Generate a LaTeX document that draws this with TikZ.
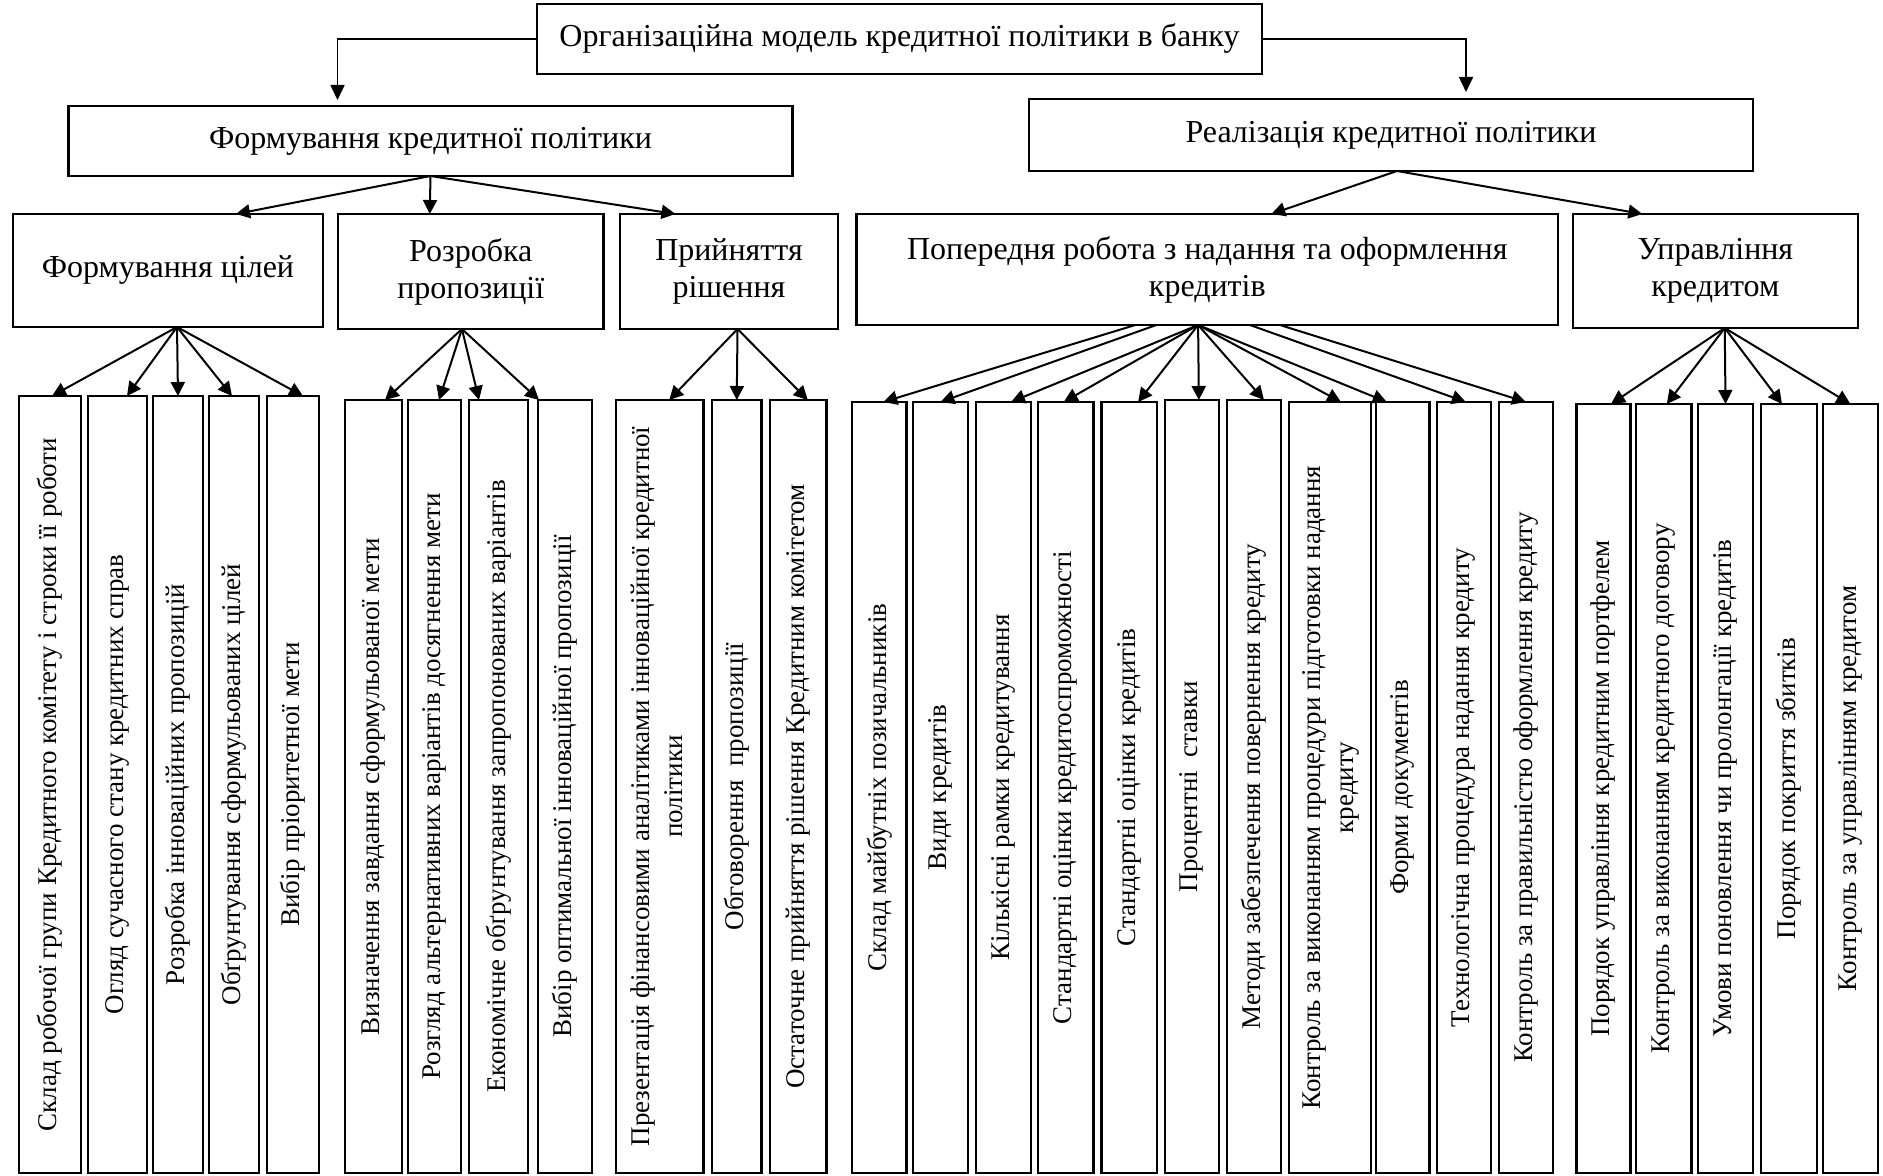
\documentclass[tikz,border=0pt]{standalone}
\usepackage{fontspec}
\usepackage{graphicx}
\setmainfont{Liberation Serif}
\usetikzlibrary{arrows.meta}
\tikzset{
  bxs/.style={draw, line width=1.2pt, inner sep=0pt, outer sep=0pt, align=center},
  bigtxt/.style={font=\fontsize{16}{18.5}\selectfont},
  smalltxt/.style={font=\fontsize{13.5}{16.5}\selectfont},
  arr/.style={line width=1pt, -{Triangle[length=7pt,width=7pt]}},
  thinarr/.style={line width=0.8pt, -{Triangle[length=7.5pt,width=7pt]}}
}
\newcommand\bx[7][bigtxt]{\node[bxs,#1,minimum width={(#5-#3)*0.5pt},minimum height={(#6-#4)*0.5pt}] (#2) at ({(#3+#5)/2},{(#4+#6)/2}) {#7};}
\newcommand\rt[1]{\rotatebox{90}{#1}}
\newcommand\rtt[2]{\rotatebox{90}{\begin{tabular}{@{}c@{}}#1\\#2\end{tabular}}}
\begin{document}
\begin{tikzpicture}[x=0.5pt,y=-0.5pt]
\useasboundingbox (0,0) rectangle (1883,1176);
% top
\bx{top}{537}{4}{1262}{74}{Організаційна модель кредитної політики в банку}
\bx{la}{68.5}{106}{792.5}{176}{Формування кредитної політики}
\bx{lb}{1029}{99}{1753}{171}{Реалізація кредитної політики}
\draw[thinarr] (top.west) -| ([xshift=-46.5pt,yshift=3pt]la.north);
\draw[thinarr] (top.east) -| ([xshift=37.5pt,yshift=3.5pt]lb.north);
% level 2
\bx{fc}{13}{214}{323}{327}{Формування цілей}
\bx{rp}{338}{214}{603.5}{329}{Розробка\\пропозиції}
\bx{pr}{620}{214}{838}{329}{Прийняття\\рішення}
\bx{pp}{856.6}{214}{1558}{325}{Попередня робота з надання та оформлення\\кредитів}
\bx{uk}{1572.7}{214}{1858}{328}{Управління\\кредитом}
\draw[arr] (la.south) -- ([xshift=34pt]fc.north);
\draw[arr] (la.south) -- ([xshift=-20.5pt]rp.north);
\draw[arr] (la.south) -- ([xshift=-26.75pt]pr.north);
\draw[arr] ([xshift=3pt]lb.south) -- ([xshift=32pt]pp.north);
\draw[arr] ([xshift=3pt]lb.south) -- ([xshift=-36.5pt]uk.north);
% group 1
\bx[smalltxt]{b11}{19}{396}{81}{1173}{\rt{Склад робочої групи Кредитного комітету і строки її роботи}}
\bx[smalltxt]{b12}{88}{396}{147}{1173}{\rt{Огляд сучасного стану кредитних справ}}
\bx[smalltxt]{b13}{153}{396}{203}{1173}{\rt{Розробка інноваційних пропозицій}}
\bx[smalltxt]{b14}{209}{396}{259}{1173}{\rt{Обґрунтування сформульованих цілей}}
\bx[smalltxt]{b15}{267}{396}{319}{1173}{\rt{Вибір пріоритетної мети}}
% group 2
\bx[smalltxt]{b21}{345}{400}{402}{1173}{\rt{Визначення завдання сформульованої мети}}
\bx[smalltxt]{b22}{408}{400}{461}{1173}{\rt{Розгляд альтернативних варіантів досягнення мети}}
\bx[smalltxt]{b23}{469}{400}{528}{1173}{\rt{Економічне обґрунтування запропонованих варіантів}}
\bx[smalltxt]{b24}{538}{400}{592}{1173}{\rt{Вибір оптимальної інноваційної пропозиції}}
% group 3
\bx[smalltxt]{b31}{616}{400}{703.5}{1173}{\rtt{Презентація фінансовими аналітиками інноваційної кредитної}{політики}}
\bx[smalltxt]{b32}{712}{400}{761.5}{1173}{\rt{Обговорення\ \ пропозиції}}
\bx[smalltxt]{b33}{770}{400}{826.5}{1173}{\rt{Остаточне прийняття рішення Кредитним комітетом}}
% group 4
\bx[smalltxt]{b41}{852}{402}{906.5}{1173}{\rt{Склад майбутніх позичальників}}
\bx[smalltxt]{b42}{913}{402}{968}{1173}{\rt{Види кредитів}}
\bx[smalltxt]{b43}{976}{402}{1031}{1173}{\rt{Кількісні рамки кредитування}}
\bx[smalltxt]{b44}{1038}{402}{1093.5}{1173}{\rt{Стандартні оцінки кредитоспроможності}}
\bx[smalltxt]{b45}{1101.5}{402}{1156.7}{1173}{\rt{Стандартні оцінки кредитів}}
\bx[smalltxt]{b46}{1164.7}{400}{1219}{1173}{\rt{Процентні\ \ ставки}}
\bx[smalltxt]{b47}{1227}{400}{1281}{1173}{\rt{Методи забезпечення повернення кредиту}}
\bx[smalltxt]{b48}{1289}{402}{1371}{1173}{\rtt{Контроль за виконанням процедури підготовки надання}{кредиту}}
\bx[smalltxt]{b49}{1376}{402}{1429.5}{1173}{\rt{Форми документів}}
\bx[smalltxt]{b4a}{1437}{402}{1490.7}{1173}{\rt{Технологічна процедура надання кредиту}}
\bx[smalltxt]{b4b}{1498.7}{402}{1553}{1173}{\rt{Контроль за правильністю оформлення кредиту}}
% group 5
\bx[smalltxt]{b51}{1576.5}{404}{1630.4}{1173}{\rt{Порядок управління кредитним портфелем}}
\bx[smalltxt]{b52}{1636}{404}{1691.6}{1173}{\rt{Контроль за виконанням кредитного договору}}
\bx[smalltxt]{b53}{1698}{404}{1753}{1173}{\rt{Умови поновлення чи пролонгації кредитів}}
\bx[smalltxt]{b54}{1761}{404}{1817}{1173}{\rt{Порядок покриття збитків}}
\bx[smalltxt]{b55}{1822.7}{404}{1878}{1173}{\rt{Контроль за управлінням кредитом}}
% arrows group 1
\draw[arr] ([xshift=4.5pt]fc.south) -- ([xshift=1pt]b11.north);
\draw[arr] ([xshift=4.5pt]fc.south) -- ([xshift=4.75pt]b12.north);
\draw[arr] ([xshift=4.5pt]fc.south) -- (b13.north);
\draw[arr] ([xshift=4.5pt]fc.south) -- ([xshift=-1pt]b14.north);
\draw[arr] ([xshift=4.5pt]fc.south) -- ([xshift=5pt]b15.north);
% arrows group 2
\draw[arr] ([xshift=-4.4pt]rp.south) -- ([xshift=5.75pt]b21.north);
\draw[arr] ([xshift=-4.4pt]rp.south) -- ([xshift=2.25pt]b22.north);
\draw[arr] ([xshift=-4.4pt]rp.south) -- ([xshift=-9.75pt]b23.north);
\draw[arr] ([xshift=-4.4pt]rp.south) -- ([xshift=-13pt]b24.north);
% arrows group 3
\draw[arr] ([xshift=4.25pt]pr.south) -- ([xshift=4.75pt]b31.north);
\draw[arr] ([xshift=4.25pt]pr.south) -- (b32.north);
\draw[arr] ([xshift=4.25pt]pr.south) -- ([xshift=4.75pt]b33.north);
% arrows group 4
\draw[arr] ([xshift=-36pt]pp.south) -- ([xshift=2pt]b41.north);
\draw[arr] ([xshift=-25.5pt]pp.south) -- (b42.north);
\draw[arr] ([xshift=-4.6pt]pp.south) -- ([xshift=3.75pt]b43.north);
\draw[arr] ([xshift=-4.6pt]pp.south) -- ([xshift=-1pt]b44.north);
\draw[arr] ([xshift=-4.6pt]pp.south) -- ([xshift=4.5pt]b45.north);
\draw[arr] ([xshift=-4.6pt]pp.south) -- ([xshift=3.5pt]b46.north);
\draw[arr] ([xshift=-4.6pt]pp.south) -- ([xshift=5pt]b47.north);
\draw[arr] ([xshift=-4.6pt]pp.south) -- ([xshift=5.5pt]b48.north);
\draw[arr] ([xshift=-4.6pt]pp.south) -- ([xshift=-8pt]b49.north);
\draw[arr] ([xshift=21.3pt]pp.south) -- ([xshift=1pt]b4a.north);
\draw[arr] ([xshift=36.3pt]pp.south) -- (b4b.north);
% arrows group 5
\draw[arr] ([xshift=4.7pt]uk.south) -- ([xshift=3.75pt]b51.north);
\draw[arr] ([xshift=4.7pt]uk.south) -- ([xshift=1.5pt]b52.north);
\draw[arr] ([xshift=4.7pt]uk.south) -- (b53.north);
\draw[arr] ([xshift=4.7pt]uk.south) -- ([xshift=-3.5pt]b54.north);
\draw[arr] ([xshift=4.7pt]uk.south) -- (b55.north);
\end{tikzpicture}
\end{document}
